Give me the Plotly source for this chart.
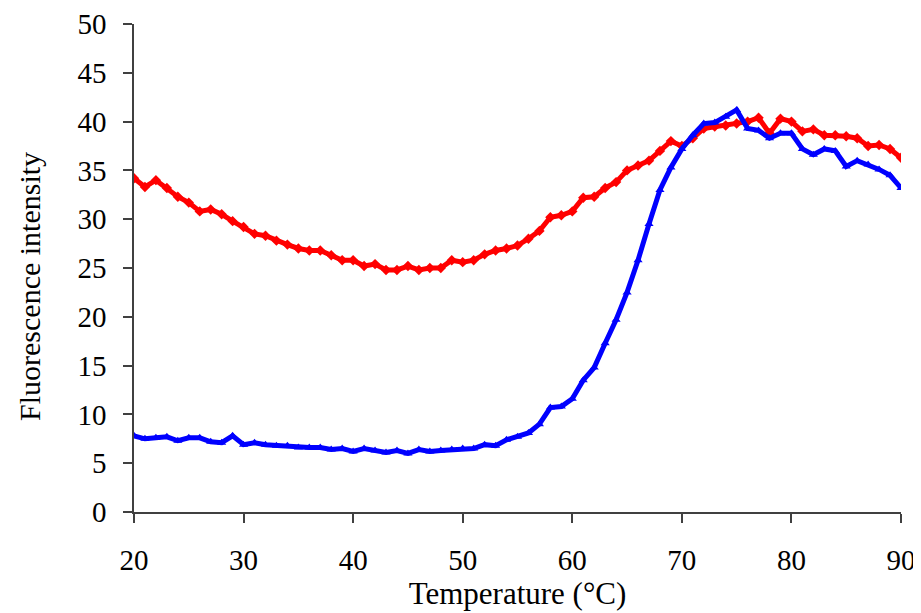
import plotly.graph_objects as go

# temperature, one reading per degree
temperature = list(range(20, 91))

# red curve (diamonds)
red_intensity = [
    34.2, 33.3, 34.0, 33.2, 32.3, 31.7, 30.8, 31.0, 30.5, 29.8,
    29.2, 28.5, 28.3, 27.8, 27.4, 27.0, 26.8, 26.8, 26.3, 25.8,
    25.8, 25.2, 25.4, 24.8, 24.8, 25.2, 24.8, 25.0, 25.0, 25.8,
    25.6, 25.8, 26.4, 26.8, 27.0, 27.3, 28.0, 28.8, 30.2, 30.4,
    30.8, 32.2, 32.3, 33.2, 33.8, 35.0, 35.5, 36.0, 37.0, 38.0,
    37.5, 38.3, 39.3, 39.5, 39.6, 39.8, 40.0, 40.4, 38.8, 40.3,
    40.0, 39.0, 39.2, 38.6, 38.6, 38.5, 38.3, 37.5, 37.6, 37.2,
    36.3,
]

# blue curve (triangles)
blue_intensity = [
    7.8, 7.5, 7.6, 7.7, 7.3, 7.6, 7.6, 7.2, 7.1, 7.8,
    6.9, 7.1, 6.9, 6.8, 6.8, 6.6, 6.6, 6.6, 6.4, 6.5,
    6.2, 6.5, 6.3, 6.1, 6.3, 6.0, 6.4, 6.2, 6.3, 6.4,
    6.5, 6.5, 6.9, 6.8, 7.4, 7.7, 8.1, 9.0, 10.7, 10.8,
    11.6, 13.5, 14.8, 17.3, 19.7, 22.5, 25.8, 29.5, 33.0, 35.3,
    37.2, 38.6, 39.8, 39.9, 40.5, 41.2, 39.3, 39.1, 38.3, 38.8,
    38.8, 37.2, 36.6, 37.2, 37.0, 35.4, 36.0, 35.6, 35.1, 34.5,
    33.2,
]

x_ticks = [20, 30, 40, 50, 60, 70, 80, 90]
y_ticks = [0, 5, 10, 15, 20, 25, 30, 35, 40, 45, 50]

family = 'Liberation Serif, Times New Roman, serif'
tick_font = dict(family=family, size=29, color='#000000')
title_font = dict(family=family, size=31, color='#000000')
ytitle_font = dict(family=family, size=30, color='#000000')

red = go.Scatter(
    x=temperature,
    y=red_intensity,
    mode='lines+markers',
    line=dict(color='#ff0000', width=5),
    marker=dict(symbol='diamond', size=8, color='#ff0000'),
    showlegend=False,
)
blue = go.Scatter(
    x=temperature,
    y=blue_intensity,
    mode='lines+markers',
    line=dict(color='#0000ff', width=5),
    marker=dict(symbol='triangle-up', size=8, color='#0000ff'),
    showlegend=False,
)

axis_common = dict(
    automargin=False,
    showgrid=False,
    zeroline=False,
    showline=True,
    linecolor='#404040',
    linewidth=1.5,
    ticks='outside',
    ticklen=9,
    tickwidth=1.5,
    tickcolor='#404040',
    tickfont=tick_font,
)

# the page body adds 8px on the left and top, so the figure is a bit smaller
layout = go.Layout(
    width=913,
    height=605,
    margin=dict(l=126, r=20, t=16, b=101),
    paper_bgcolor='white',
    plot_bgcolor='white',
    font=tick_font,
    xaxis=dict(
        axis_common,
        range=[20, 90],
        tickvals=x_ticks,
        ticklabelstandoff=12,
        title=dict(text='Temperature (°C)', font=title_font, standoff=4),
    ),
    yaxis=dict(
        axis_common,
        range=[0, 50],
        tickvals=y_ticks,
        ticklabelstandoff=11,
    ),
    annotations=[
        dict(
            text='Fluorescence intensity',
            font=ytitle_font,
            textangle=-90,
            xref='paper', yref='paper',
            x=0, y=0.5,
            xanchor='center', yanchor='middle',
            xshift=-105, yshift=-19,
            showarrow=False,
        )
    ],
)

fig = go.Figure(data=[red, blue], layout=layout)
fig.write_html('out.html')
